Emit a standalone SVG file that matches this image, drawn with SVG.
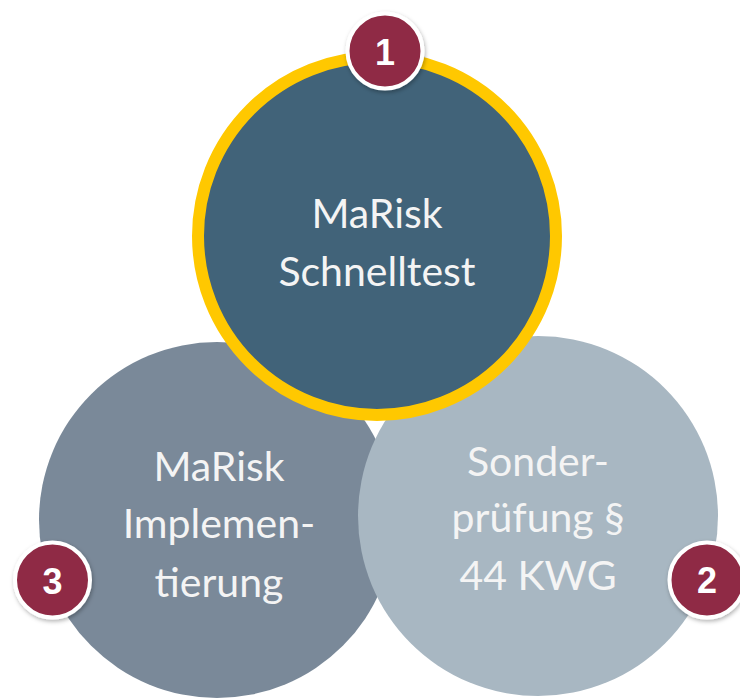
<svg xmlns="http://www.w3.org/2000/svg" width="740" height="699" viewBox="0 0 740 699">
<style>
.lbl{font-family:Lato,"Open Sans","Liberation Sans",sans-serif;font-size:41px;fill:#f4f4f4;text-anchor:middle}
.num{font-family:"Liberation Sans",Arial,sans-serif;font-weight:bold;font-size:36px;fill:#ffffff;text-anchor:middle}
.badge{fill:#8f2a44;stroke:#ffffff;stroke-width:4;filter:url(#sh)}
</style>
<defs>
<filter id="sh" x="-30%" y="-30%" width="160%" height="160%">
<feDropShadow dx="1" dy="2" stdDeviation="2" flood-color="#000" flood-opacity="0.3"/>
</filter>
</defs>
<rect width="740" height="699" fill="#ffffff"/>
<g id="node-implementierung">
<circle cx="217" cy="520" r="178" fill="#7a8999"/>
<text class="lbl" x="219" y="481">MaRisk</text>
<text class="lbl" x="219" y="538">Implemen-</text>
<text class="lbl" x="219" y="597">tierung</text>
</g>
<g id="node-sonderpruefung">
<circle cx="538" cy="516" r="180" fill="#a8b7c2"/>
<text class="lbl" x="538" y="476">Sonder-</text>
<text class="lbl" x="538" y="532">prüfung §</text>
<text class="lbl" x="538" y="590">44 KWG</text>
</g>
<g id="node-schnelltest">
<circle cx="377" cy="236" r="179" fill="#416379" stroke="#ffc800" stroke-width="12"/>
<text class="lbl" x="377" y="228">MaRisk</text>
<text class="lbl" x="377" y="286">Schnelltest</text>
</g>
<g id="badge-1">
<circle class="badge" cx="385" cy="51" r="37.5"/>
<text class="num" x="385" y="65">1</text>
</g>
<g id="badge-2">
<circle class="badge" cx="707" cy="580" r="37.5"/>
<text class="num" x="707" y="593">2</text>
</g>
<g id="badge-3">
<circle class="badge" cx="52.5" cy="580" r="37.5"/>
<text class="num" x="52.5" y="594">3</text>
</g>
<g id="connectors"></g>
</svg>
